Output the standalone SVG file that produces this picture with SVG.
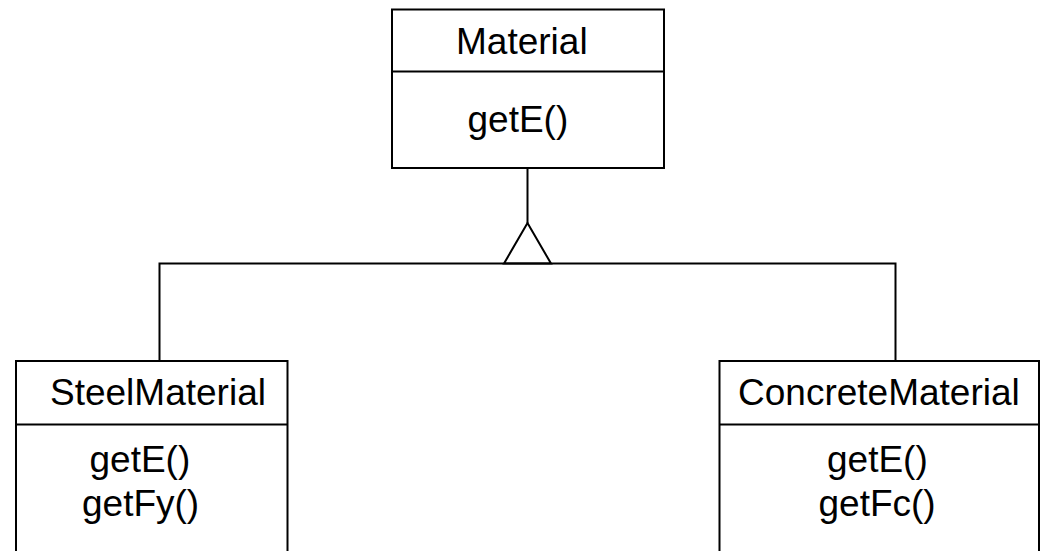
<svg xmlns="http://www.w3.org/2000/svg" width="1040" height="551" viewBox="0 0 1040 551">
<style>
.box{fill:#fff;stroke:#000;stroke-width:2}
.ln{fill:none;stroke:#000;stroke-width:2}
text{font-family:"Liberation Sans",Arial,sans-serif;font-size:37px;fill:#000}
</style>
<rect width="1040" height="551" fill="#fff"/>
<g id="connectors">
<line class="ln" x1="527.5" y1="168" x2="527.5" y2="223"/>
<polyline class="ln" points="159.5,361 159.5,263.5 895.5,263.5 895.5,361"/>
<polygon class="ln" points="527.5,223 504,263.5 551,263.5" fill="#fff"/>
</g>
<g id="Material">
<rect class="box" x="392" y="9.5" width="272" height="158.5"/>
<line class="ln" x1="392" y1="71.5" x2="664" y2="71.5"/>
<text x="456" y="54">Material</text>
<text x="467.5" y="131.7">getE()</text>
</g>
<g id="SteelMaterial">
<rect class="box" x="16" y="361" width="271.5" height="200"/>
<line class="ln" x1="16" y1="424.5" x2="287.5" y2="424.5"/>
<text x="50" y="405">SteelMaterial</text>
<text x="89.5" y="471.7">getE()</text>
<text x="82" y="516">getFy()</text>
</g>
<g id="ConcreteMaterial">
<rect class="box" x="719.5" y="361" width="319.5" height="200"/>
<line class="ln" x1="719.5" y1="424.5" x2="1039" y2="424.5"/>
<text x="738" y="405">ConcreteMaterial</text>
<text x="827" y="471.7">getE()</text>
<text x="818.5" y="516">getFc()</text>
</g>
</svg>
